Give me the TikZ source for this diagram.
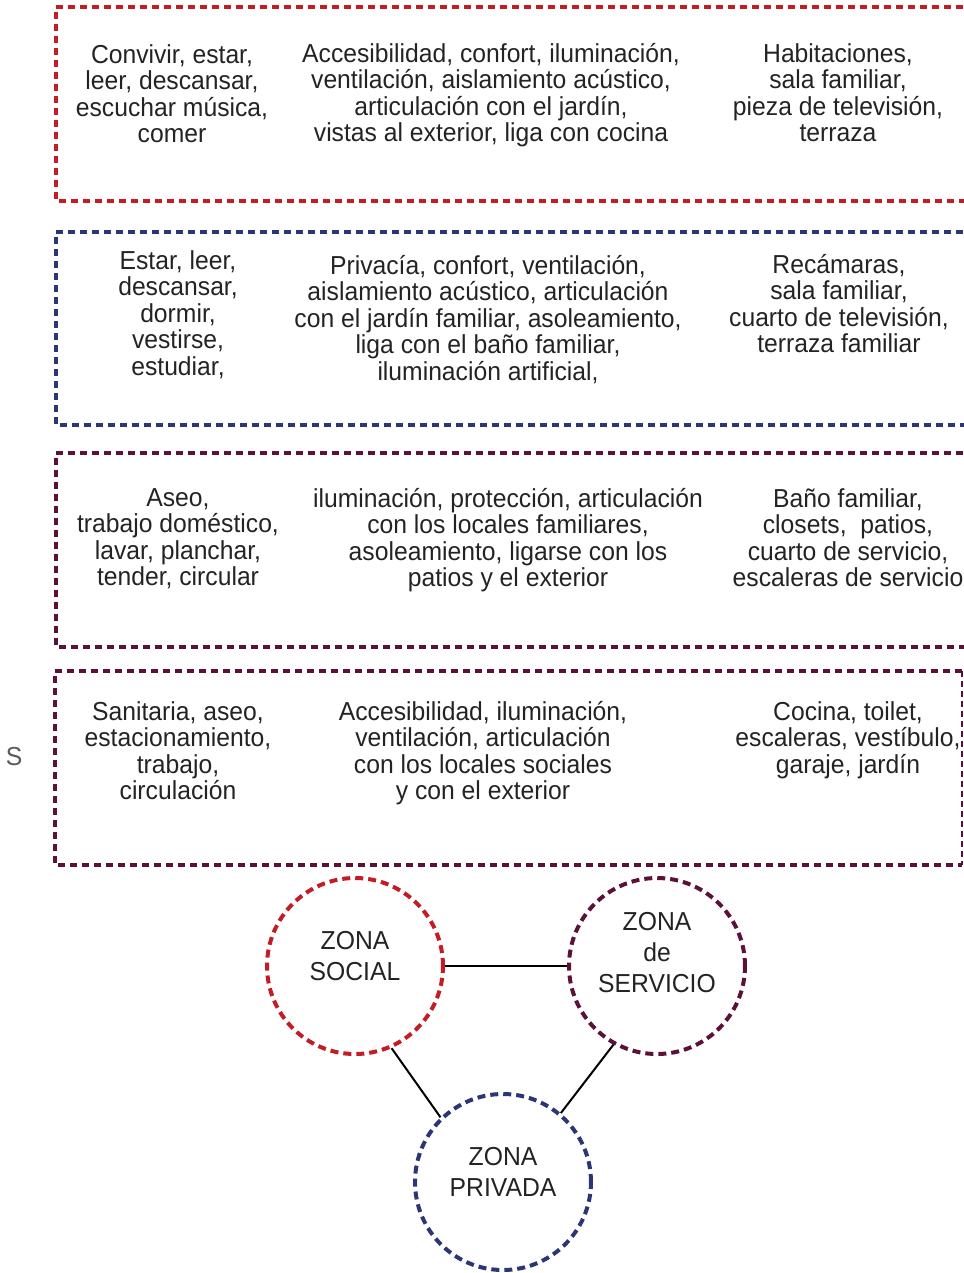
\documentclass[tikz,border=0pt]{standalone}
\usepackage{fontspec}
\setmainfont[FakeStretch=0.95]{Liberation Sans}
\usetikzlibrary{positioning}
\definecolor{zsocial}{RGB}{196,28,36}
\definecolor{zprivada}{RGB}{44,54,118}
\definecolor{zservicio}{RGB}{92,18,56}
\definecolor{texto}{RGB}{35,35,35}

\begin{document}
\begin{tikzpicture}[x=1pt,y=-1pt,
  zonebox/.style={line width=3.2pt,dash pattern=on 7pt off 5pt},
  zonecirc/.style={circle,minimum size=176pt,line width=4pt,dash pattern=on 8pt off 5pt},
  zonelabel/.style={align=center,text=texto,yshift=10pt,font=\fontsize{26}{31}\selectfont},
  celltext/.style={anchor=north,align=center,inner sep=0pt,text=texto,font=\fontsize{26}{26.5}\selectfont}]

\useasboundingbox (0,0) rectangle (963,1273);

% recuadros de las zonas
\draw[zonebox,zsocial] (975,7) -- (56,7) -- (56,201) -- (975,201);
\draw[zonebox,zprivada] (975,232) -- (56,232) -- (56,425) -- (975,425);
\draw[zonebox,zservicio] (975,453) -- (56,453) -- (56,647) -- (975,647);
\draw[zonebox,zservicio] (962,671) -- (55,671) -- (55,865) -- (962,865);
\draw[zservicio,line width=1.5pt,dash pattern=on 6pt off 4pt] (962,671) -- (962,865);

\node[text=gray!70!black,font=\fontsize{26}{26}\selectfont] (corte) at (14,757) {S};

% zona social
\node[celltext] (socAct) at (172,44) {Convivir, estar,\\leer, descansar,\\escuchar música,\\comer};
\node[celltext] (socReq) at (491,43) {Accesibilidad, confort, iluminación,\\ventilación, aislamiento acústico,\\articulación con el jardín,\\vistas al exterior, liga con cocina};
\node[celltext] (socLoc) at (838,43) {Habitaciones,\\sala familiar,\\pieza de televisión,\\terraza};

% zona privada
\node[celltext] (priAct) at (178,250) {Estar, leer,\\descansar,\\dormir,\\vestirse,\\estudiar,};
\node[celltext] (priReq) at (488,255) {Privacía, confort, ventilación,\\aislamiento acústico, articulación\\con el jardín familiar, asoleamiento,\\liga con el baño familiar,\\iluminación artificial,};
\node[celltext] (priLoc) at (839,254) {Recámaras,\\sala familiar,\\cuarto de televisión,\\terraza familiar};

% zona de servicio (interior)
\node[celltext] (intAct) at (178,488) {Aseo,\\trabajo doméstico,\\lavar, planchar,\\tender, circular};
\node[celltext] (intReq) at (508,488) {iluminación, protección, articulación\\con los locales familiares,\\asoleamiento, ligarse con los\\patios y el exterior};
\node[celltext] (intLoc) at (848,488) {Baño familiar,\\closets,\ \ patios,\\cuarto de servicio,\\escaleras de servicio};

% zona de servicio (exterior)
\node[celltext] (serAct) at (178,701) {Sanitaria, aseo,\\estacionamiento,\\trabajo,\\circulación};
\node[celltext] (serReq) at (483,701) {Accesibilidad, iluminación,\\ventilación, articulación\\con los locales sociales\\y con el exterior};
\node[celltext] (serLoc) at (848,701) {Cocina, toilet,\\escaleras, vestíbulo,\\garaje, jardín};

% diagrama de relaciones
\node[zonecirc,draw=zsocial,label={[zonelabel]center:ZONA\\SOCIAL}] (social) at (355,966) {};
\node[zonecirc,draw=zservicio,label={[zonelabel,yshift=3pt]center:ZONA\\de\\SERVICIO}] (servicio) at (657,966) {};
\node[zonecirc,draw=zprivada,label={[zonelabel]center:ZONA\\PRIVADA}] (privada) at (503,1182) {};

\draw[line width=2pt] (social) -- (servicio);
\draw[line width=2pt] (social.-66) -- (privada.134);
\draw[line width=2pt] (servicio.-119) -- (privada.50);
\end{tikzpicture}
\end{document}
